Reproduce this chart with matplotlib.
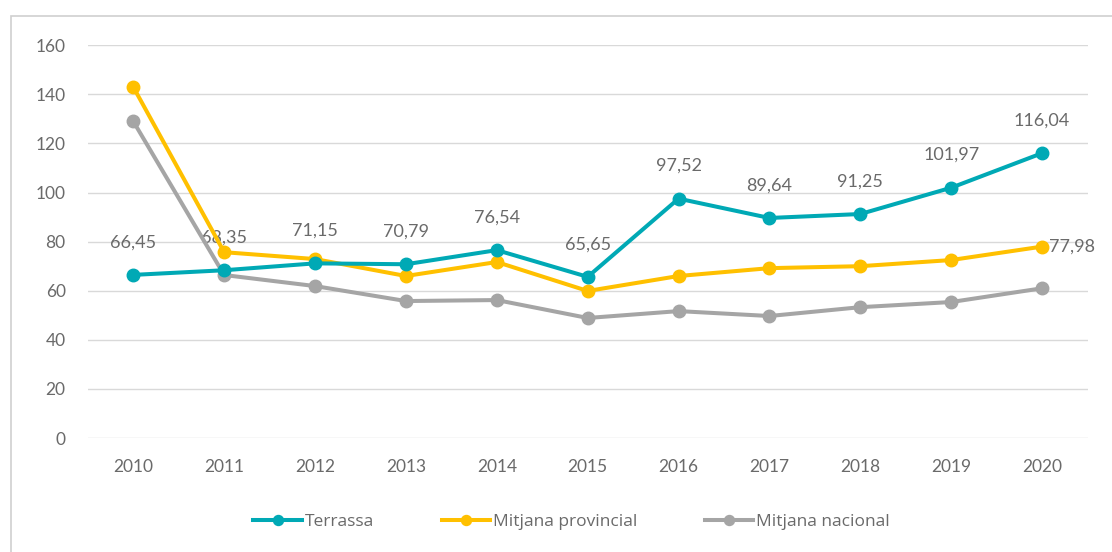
import matplotlib.pyplot as plt
from matplotlib.patches import Rectangle

years = ["2010", "2011", "2012", "2013", "2014", "2015", "2016", "2017", "2018", "2019", "2020"]
terrassa = [66.45, 68.35, 71.15, 70.79, 76.54, 65.65, 97.52, 89.64, 91.25, 101.97, 116.04]
provincial = [143.0, 75.7, 72.9, 66.0, 71.7, 59.9, 66.0, 69.2, 70.0, 72.5, 77.98]
nacional = [129.0, 66.4, 61.9, 55.8, 56.2, 48.9, 51.7, 49.7, 53.3, 55.4, 61.0]

plt.rcParams['font.family'] = ['Lato', 'DejaVu Sans']
text_color = "#6a6a6a"

fig = plt.figure(figsize=(11.12, 5.52), dpi=100)
ax = fig.add_axes([0.079, 0.2065, 0.899, 0.7115])

# outer chart frame
fig.patches.append(Rectangle((11 / 1112, -0.1), 1.2, 1 - 16 / 552 + 0.1,
                             transform=fig.transFigure, fill=False,
                             edgecolor="#cfcfcf", linewidth=1.2))

x = range(len(years))
ax.plot(x, terrassa, color="#00A9B5", lw=2.9, marker="o", ms=9, label="Terrassa", zorder=4)
ax.plot(x, provincial, color="#FFC000", lw=2.9, marker="o", ms=9, label="Mitjana provincial", zorder=3)
ax.plot(x, nacional, color="#A5A5A5", lw=2.9, marker="o", ms=9, label="Mitjana nacional", zorder=2)

for i, v in enumerate(terrassa):
    ax.annotate(f"{v:.2f}".replace(".", ","), (i, v), xytext=(0, 23.5),
                textcoords="offset points", ha="center", va="center",
                fontsize=13, color=text_color, zorder=1)
ax.annotate(f"{provincial[-1]:.2f}".replace(".", ","), (len(years) - 1, provincial[-1]),
            xytext=(5, 0), textcoords="offset points", ha="left", va="center",
            fontsize=13, color=text_color, annotation_clip=False)

ax.set_xlim(-0.5, len(years) - 0.5)
ax.set_ylim(0, 160)
ax.set_yticks(range(0, 161, 20))
ax.set_xticks(list(x))
ax.set_xticklabels(years)
ax.tick_params(axis="both", length=0, labelsize=12.5, labelcolor=text_color)
ax.tick_params(axis="y", pad=16)
ax.tick_params(axis="x", pad=15)
ax.grid(axis="y", color="#d9d9d9", lw=1)
ax.set_axisbelow(True)
for s in ax.spines.values():
    s.set_visible(False)

fig.legend(loc="center", bbox_to_anchor=(0.514, 0.055), ncol=3, frameon=False,
           prop={"family": "Open Sans", "size": 12.5}, labelcolor=text_color,
           handlelength=2.8, handletextpad=0.15, columnspacing=3.9, markerscale=0.8)

fig.savefig("out.png", dpi=100)
